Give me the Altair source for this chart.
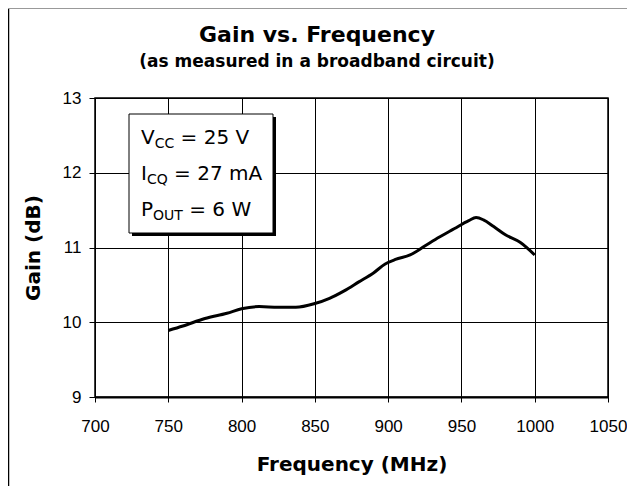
import altair as alt
import pandas as pd

# ---- data ----
freq_mhz = [750, 760, 775, 790, 800, 812, 825, 837, 850, 860, 870, 880, 890, 898,
            905, 915, 925, 935, 945, 955, 960, 965, 972, 980, 990, 1000]
gain_db = [9.89, 9.95, 10.05, 10.12, 10.18, 10.21, 10.20, 10.20, 10.25, 10.32, 10.42,
           10.54, 10.66, 10.78, 10.84, 10.90, 11.02, 11.14, 11.25, 11.36, 11.40,
           11.37, 11.28, 11.17, 11.07, 10.90]
x_ticks = [700, 750, 800, 850, 900, 950, 1000, 1050]
y_ticks = [9, 10, 11, 12, 13]

title_text = "Gain vs. Frequency"
subtitle_text = "(as measured in a broadband circuit)"
x_title = "Frequency (MHz)"
y_title = "Gain (dB)"

box_main = ["V", "I", "P"]
box_sub = ["CC", "CQ", "OUT"]
box_rest = ["= 25 V", "= 27 mA", "= 6 W"]

df = pd.DataFrame({"freq": freq_mhz, "gain": gain_db})

W, H = 513, 299
FONT = "DejaVu Sans"
TICKFONT = "Liberation Sans"

base = alt.Chart(df)

line = base.mark_line(color="black", strokeWidth=3, interpolate="monotone").encode(
    x=alt.X("freq:Q",
            scale=alt.Scale(domain=[700, 1050], nice=False, zero=False),
            axis=alt.Axis(values=x_ticks, format="d", title=x_title,
                          grid=True, gridColor="black", gridWidth=1, gridOpacity=1,
                          domainColor="black", domainWidth=2,
                          tickColor="black", tickSize=5, tickWidth=1,
                          labelFlush=False, labelOverlap=False,
                          labelPadding=16, titlePadding=20)),
    y=alt.Y("gain:Q",
            scale=alt.Scale(domain=[9, 13], nice=False, zero=False),
            axis=alt.Axis(values=y_ticks, format="d", title=y_title,
                          grid=True, gridColor="black", gridWidth=1, gridOpacity=1,
                          domainColor="black", domainWidth=1,
                          tickColor="black", tickSize=6, tickWidth=1,
                          labelFlush=False,
                          labelPadding=8, titlePadding=19)),
)

one = alt.Data(values=[{"k": 1}])

def txt(text, x, y, size, bold=False, align="left", baseline="alphabetic"):
    return alt.Chart(one).mark_text(
        font=FONT, fontSize=size, fontWeight="bold" if bold else "normal",
        color="black", align=align, baseline=baseline
    ).encode(x=alt.value(x), y=alt.value(y), text=alt.value(text))

layers = [line]

# annotation box with drop shadow
bx0, by0, bx1, by1 = 34, 16, 178, 135
layers.append(alt.Chart(one).mark_rect(color="black").encode(
    x=alt.value(bx0 + 3), x2=alt.value(bx1 + 3), y=alt.value(by0 + 3), y2=alt.value(by1 + 3)))
layers.append(alt.Chart(one).mark_rect(fill="white", stroke="black", strokeWidth=1).encode(
    x=alt.value(bx0), x2=alt.value(bx1), y=alt.value(by0), y2=alt.value(by1)))

cw = {"V": 0.684, "I": 0.295, "P": 0.603, "C": 0.698, "Q": 0.787, "O": 0.787,
      "U": 0.732, "T": 0.611}
MS, SS = 20, 14
for i, (m, s, r) in enumerate(zip(box_main, box_sub, box_rest)):
    yb = 46 + 36 * i
    x0 = 46
    xs = x0 + cw[m] * MS
    xr = xs + sum(cw[c] for c in s) * SS + 0.318 * MS
    layers.append(txt(m, x0, yb, MS))
    layers.append(txt(s, xs, yb + 4, SS))
    layers.append(txt(r, xr, yb, MS))

# titles
layers.append(txt(title_text, 222, -63, 22, bold=True, align="center", baseline="middle"))
layers.append(txt(subtitle_text, 222, -36, 17, bold=True, align="center", baseline="middle"))

# outer frame (left and top)
layers.append(alt.Chart(one).mark_rule(color="black", strokeWidth=1.5).encode(
    x=alt.value(-86.5), y=alt.value(-90), y2=alt.value(H + 89)))
layers.append(alt.Chart(one).mark_rule(color="#999999", strokeWidth=1).encode(
    x=alt.value(-87), x2=alt.value(W + 19), y=alt.value(-89.5)))

chart = alt.layer(*layers).properties(
    width=W, height=H,
    autosize=alt.AutoSizeParams(type="none"),
    padding={"left": 87, "top": 90, "right": 19, "bottom": 89},
    background="white",
).configure_view(
    stroke="black", strokeWidth=1.5
).configure_axis(
    labelFont=TICKFONT, labelFontSize=17, labelColor="black",
    titleFont=FONT, titleFontSize=20, titleFontWeight="bold", titleColor="black",
)

chart.save("out.html", embed_options={"renderer": "svg", "actions": False})
